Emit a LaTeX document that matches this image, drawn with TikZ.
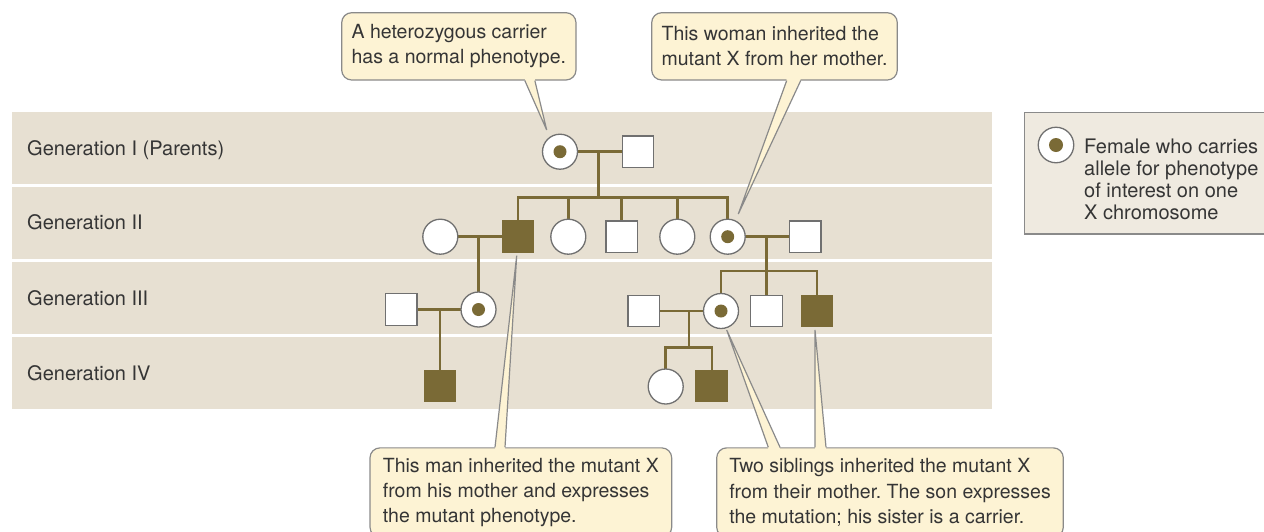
\documentclass[tikz,border=0pt]{standalone}
\usepackage{fontspec}
\setmainfont{TeX Gyre Heros}
\frenchspacing
\pgfdeclarelayer{front}
\pgfsetlayers{main,front}
\definecolor{bandc}{HTML}{E7E0D2}
\definecolor{legc}{HTML}{EFEAE0}
\definecolor{calloutc}{HTML}{FDF3D4}
\definecolor{edgec}{HTML}{8A8A8A}
\definecolor{pedc}{HTML}{7A6A36}
\definecolor{symc}{HTML}{707070}
\definecolor{txtc}{HTML}{353535}
\begin{document}
\begin{tikzpicture}[x=1pt,y=-1pt,
  genlabel/.style={anchor=west,inner sep=0,text=txtc,text height=14.5,text depth=4,
    font=\fontsize{20}{24}\selectfont},
  female/.style={circle,draw=symc,fill=white,line width=1.3,minimum size=35,inner sep=0},
  male/.style={rectangle,draw=symc,fill=white,line width=1.3,minimum size=31.5,inner sep=0},
  affected/.style={male,draw=pedc,fill=pedc},
  carrier/.style={female,path picture={\fill[pedc] (path picture bounding box.center) circle (6.5);}},
  ped/.style={draw=pedc,line width=2.5,line cap=rect},
  callout/.style={draw=edgec,fill=calloutc,line width=1.2,rounded corners=10,align=left,
    inner sep=0,text=txtc,font=\fontsize{19.5}{25.3}\selectfont},
  wedge/.style={draw=edgec,line width=1.2,line join=miter},
]
\useasboundingbox (0,0) rectangle (1264,531);

% generation bands
\fill[bandc] (12,112) rectangle (992,184.3);
\fill[bandc] (12,186.8) rectangle (992,259.3);
\fill[bandc] (12,261.8) rectangle (992,334.3);
\fill[bandc] (12,336.8) rectangle (992,409.3);

\node[genlabel] (gen1) at (27,149.8) {Generation I (Parents)};
\node[genlabel] (gen2) at (27,224.3) {Generation II};
\node[genlabel] (gen3) at (27,300) {Generation III};
\node[genlabel] (gen4) at (27,375) {Generation IV};

% legend
\node[draw=edgec,fill=legc,line width=1.2,anchor=north west,minimum width=260,
  minimum height=121.6,inner sep=0] (legend) at (1024,111.7) {};
\begin{pgfonlayer}{front}
\node[carrier,minimum size=35.5,path picture={\fill[pedc] (path picture bounding box.center) circle (7);}]
  (legsym) at (1056,145) {};
\end{pgfonlayer}
\node[anchor=north west,inner sep=0,align=left,text=txtc,font=\fontsize{20}{22.2}\selectfont]
  (legtext) at (1084,138.5) {Female who carries\\allele for phenotype\\of interest on one\\X chromosome};

% pedigree symbols
\begin{pgfonlayer}{front}
% generation I
\node[carrier] (p1) at (560,151.7) {};
\node[male] (p2) at (638,151.7) {};
% generation II
\node[female] (q1) at (440.3,236.7) {};
\node[affected] (q2) at (518,236.7) {};
\node[female] (q3) at (568.3,236.7) {};
\node[male] (q4) at (621.7,236.7) {};
\node[female] (q5) at (677.3,236.7) {};
\node[carrier] (q6) at (727.7,236.7) {};
\node[male] (q7) at (805.3,236.7) {};
% generation III
\node[male] (r1) at (401.3,309.5) {};
\node[carrier] (r2) at (478.5,309.5) {};
\node[male] (r3) at (643.7,311) {};
\node[carrier] (r4) at (721,311) {};
\node[male] (r5) at (766.5,311) {};
\node[affected] (r6) at (817,311) {};
% generation IV
\node[affected] (s1) at (440,386) {};
\node[female] (s2) at (665.7,386.5) {};
\node[affected] (s3) at (711.8,386) {};
\end{pgfonlayer}

% matings and descent lines
\coordinate (m1) at (598.7,151.7);
\coordinate (k1) at (598.7,197.3);
\draw[ped] (p1) -- (p2);
\draw[ped] (m1) -- (k1);
\draw[ped] (q2 |- k1) -- (q6 |- k1);
\foreach \c in {q2,q3,q4,q5,q6} \draw[ped] (\c |- k1) -- (\c);

\coordinate (m2) at (478.5,236.7);
\draw[ped] (q1) -- (q2);
\draw[ped] (m2) -- (r2);

\coordinate (m3) at (440,309.5);
\draw[ped] (r1) -- (r2);
\draw[ped] (m3) -- (s1);

\coordinate (m4) at (766.5,236.7);
\coordinate (k4) at (766.5,271);
\draw[ped] (q6) -- (q7);
\draw[ped] (m4) -- (k4);
\draw[ped] (r4 |- k4) -- (r6 |- k4);
\foreach \c in {r4,r5,r6} \draw[ped] (\c |- k4) -- (\c);

\coordinate (m5) at (689,311);
\coordinate (k5) at (689,347.7);
\draw[ped] (r3) -- (r4);
\draw[ped] (m5) -- (k5);
\draw[ped] (s2 |- k5) -- (s3 |- k5);
\foreach \c in {s2,s3} \draw[ped] (\c |- k5) -- (\c);

% callouts
\node[callout,minimum width=234.3,minimum height=67.3] (c1) at (458.85,46.35)
  {A heterozygous carrier\\has a normal phenotype.};
\node[callout,minimum width=245.6,minimum height=67.3] (c2) at (774.5,46.35)
  {This woman inherited the\\mutant X from her mother.};
\node[callout,minimum width=301.7,minimum height=89.3] (c3) at (520.85,492.5)
  {This man inherited the mutant X\\from his mother and expresses\\the mutant phenotype.};
\node[callout,minimum width=346.6,minimum height=89.3] (c4) at (890,492.5)
  {Two siblings inherited the mutant X\\from their mother. The son expresses\\the mutation; his sister is a carrier.};

\coordinate (t1) at ([shift={(-13.3,-21.7)}]p1.center);
\coordinate (t2) at ([shift={(10.6,-22.7)}]q6.center);
\coordinate (t3) at ([shift={(-1.3,19)}]q2.center);
\coordinate (t4) at ([shift={(5.7,19)}]r4.center);
\coordinate (t5) at ([shift={(-2,19)}]r6.center);

\fill[calloutc] ([xshift=66,yshift=1.5]c1.south) -- (t1) -- ([xshift=76,yshift=1.5]c1.south) -- cycle;
\draw[wedge] ([xshift=66]c1.south) -- (t1) -- ([xshift=76]c1.south);

\fill[calloutc] ([xshift=12.2,yshift=1.5]c2.south) -- (t2) -- ([xshift=26.2,yshift=1.5]c2.south) -- cycle;
\draw[wedge] ([xshift=12.2]c2.south) -- (t2) -- ([xshift=26.2]c2.south);

\fill[calloutc] ([xshift=-25.85,yshift=-1.5]c3.north) -- (t3) -- ([xshift=-15.85,yshift=-1.5]c3.north) -- cycle;
\draw[wedge] ([xshift=-25.85]c3.north) -- (t3) -- ([xshift=-15.85]c3.north);

\fill[calloutc] ([xshift=-121.7,yshift=-1.5]c4.north) -- (t4) -- ([xshift=-110,yshift=-1.5]c4.north) -- cycle;
\draw[wedge] ([xshift=-121.7]c4.north) -- (t4) -- ([xshift=-110]c4.north);

\fill[calloutc] ([xshift=-75,yshift=-1.5]c4.north) -- (t5) -- ([xshift=-64,yshift=-1.5]c4.north) -- cycle;
\draw[wedge] ([xshift=-75]c4.north) -- (t5) -- ([xshift=-64]c4.north);
\end{tikzpicture}
\end{document}
